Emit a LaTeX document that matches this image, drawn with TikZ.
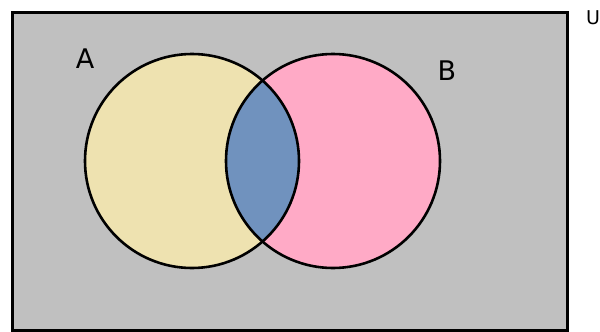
\documentclass[tikz,border=0pt]{standalone}
\usepackage{xcolor}
\usepackage{fontspec}
\setmainfont{DejaVu Sans}
\definecolor{vennGray}{HTML}{C0C0C0}
\definecolor{vennYellow}{HTML}{EEE2B0}
\definecolor{vennPink}{HTML}{FFAAC6}
\definecolor{vennBlue}{HTML}{7092BE}
\tikzset{
  setline/.style={black, line width=2.6pt},
  setlabel/.style={inner sep=0pt, font=\fontsize{27}{27}\selectfont}
}

\begin{document}
\begin{tikzpicture}[x=1pt, y=-1pt]
  \useasboundingbox (0,0) rectangle (600,332);
  \fill[white] (0,0) rectangle (600,332);

  % Universe frame
  \fill[vennGray] (12,12) rectangle (567,330);

  % Set centres
  \coordinate (cA) at (192,161);
  \coordinate (cB) at (333,161);

  % Set fills
  \fill[vennYellow] (cA) circle (107);
  \fill[vennPink] (cB) circle (107);

  % Intersection
  \begin{scope}
    \clip (cA) circle (107);
    \fill[vennBlue] (cB) circle (107);
  \end{scope}

  % Outlines
  \draw[setline] (cA) circle (107);
  \draw[setline] (cB) circle (107);
  \draw[black, line width=3pt] (12,12) rectangle (567,330);

  % Labels
  \node[setlabel] (labelA) at (85,59) {A};
  \node[setlabel] (labelB) at (447,71) {B};
  \node[setlabel, font=\fontsize{19}{19}\selectfont] (labelU) at (593,18) {U};
\end{tikzpicture}
\end{document}
